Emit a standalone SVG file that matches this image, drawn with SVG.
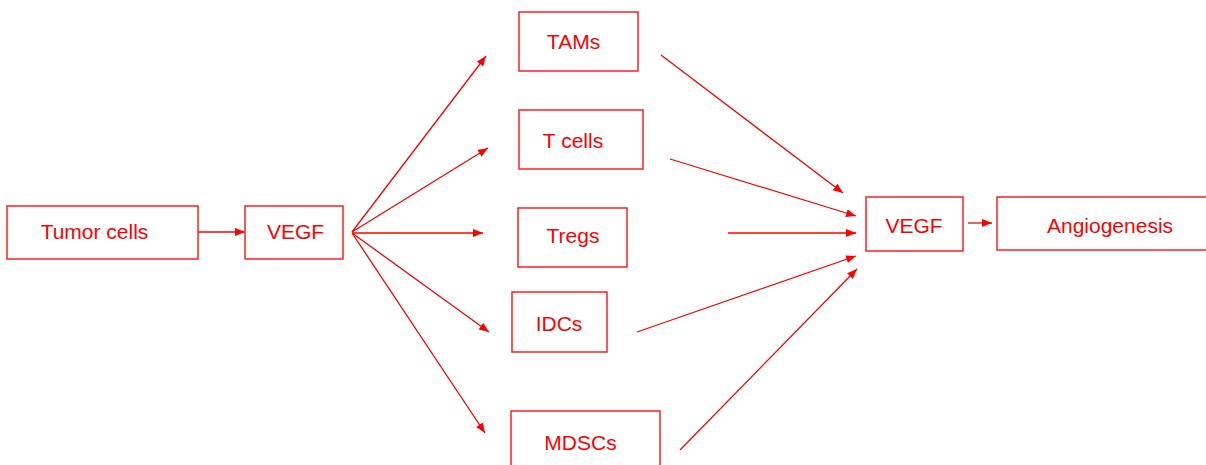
<svg xmlns="http://www.w3.org/2000/svg" width="1206" height="465" viewBox="0 0 1206 465">
<defs>
<marker id="ah" markerUnits="userSpaceOnUse" markerWidth="11" markerHeight="9" refX="10" refY="4" orient="auto">
<path d="M0,0 L10,4 L0,8 z" fill="#ff0000"/>
</marker>
<style>
.box{fill:#ffffff;stroke:#ff2020;stroke-width:1.5}
.lbl{font-family:"Liberation Sans",Arial,sans-serif;font-size:21px;fill:#ff0000;text-anchor:middle}
.edge{stroke:#ff0000;stroke-width:1.3;fill:none;marker-end:url(#ah)}
</style>
</defs>
<rect width="1206" height="465" fill="#ffffff"/>
<g id="connectors">
<line class="edge" x1="198" y1="232" x2="245" y2="232"/>
<line class="edge" x1="352" y1="232" x2="486" y2="56"/>
<line class="edge" x1="352" y1="232" x2="488" y2="148"/>
<line class="edge" x1="352" y1="233" x2="483" y2="233"/>
<line class="edge" x1="352" y1="233" x2="489" y2="332"/>
<line class="edge" x1="352" y1="233" x2="485" y2="433"/>
<line class="edge" x1="661" y1="55" x2="843" y2="193"/>
<line class="edge" x1="670" y1="159" x2="856" y2="216"/>
<line class="edge" x1="728" y1="233" x2="856" y2="233"/>
<line class="edge" x1="637" y1="332" x2="856" y2="256"/>
<line class="edge" x1="680" y1="450" x2="857" y2="269"/>
<line class="edge" x1="968" y1="223" x2="992" y2="223"/>
</g>
<g id="tumor-cells"><rect class="box" x="7" y="206" width="191" height="53"/><text class="lbl" x="94.5" y="238.5">Tumor cells</text></g>
<g id="vegf-1"><rect class="box" x="245" y="206" width="98" height="53"/><text class="lbl" x="295.5" y="238.5">VEGF</text></g>
<g id="tams"><rect class="box" x="519" y="12" width="119" height="59"/><text class="lbl" x="573.5" y="49">TAMs</text></g>
<g id="t-cells"><rect class="box" x="519" y="110" width="124" height="59"/><text class="lbl" x="573" y="148">T cells</text></g>
<g id="tregs"><rect class="box" x="518" y="208" width="109" height="59"/><text class="lbl" x="573" y="243">Tregs</text></g>
<g id="idcs"><rect class="box" x="512" y="292" width="95" height="60"/><text class="lbl" x="559" y="331">IDCs</text></g>
<g id="mdscs"><rect class="box" x="511" y="411" width="149" height="60"/><text class="lbl" x="580.5" y="450">MDSCs</text></g>
<g id="vegf-2"><rect class="box" x="866" y="197" width="97" height="54"/><text class="lbl" x="914" y="233">VEGF</text></g>
<g id="angiogenesis"><rect class="box" x="997" y="197" width="215" height="53"/><text class="lbl" x="1110" y="233">Angiogenesis</text></g>
</svg>
